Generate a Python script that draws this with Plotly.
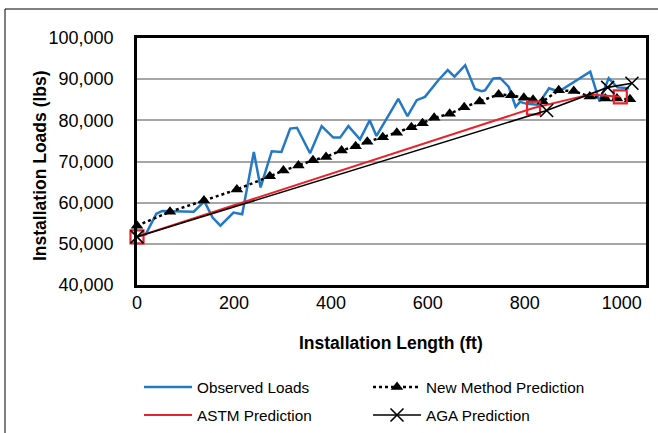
import plotly.graph_objects as go

# ---------------- data ----------------
obs_x = [0, 18, 40, 52, 117, 139, 156, 172, 199, 217, 241, 255, 278, 298, 316, 330,
         357, 381, 405, 419, 436, 460, 480, 494, 539, 558, 577, 594, 622, 641, 655,
         677, 697, 711, 718, 735, 749, 767, 781, 790, 804, 827, 850, 870, 935, 954,
         973, 991, 1015]
obs_y = [51800, 52300, 57300, 58000, 57800, 60300, 56400, 54400, 57600, 57200, 72300,
         63700, 72500, 72300, 78000, 78200, 72000, 78600, 75800, 75800, 78600, 75400,
         80000, 76200, 85200, 81000, 84900, 85700, 89800, 92200, 90600, 93400, 87600,
         87100, 87300, 90200, 90300, 88100, 83300, 84500, 84000, 83800, 87800, 87000,
         91800, 84600, 90200, 88000, 87800]

new_x = [0, 68, 138, 206, 274, 302, 333, 363, 390, 422, 451, 475, 507, 536, 566, 589,
         613, 645, 675, 707, 746, 772, 798, 817, 837, 870, 901, 934, 966, 990, 1017]
new_y = [54400, 57800, 60500, 63200, 66400, 67800, 69000, 70300, 71100, 72700, 73700,
         74800, 75900, 77000, 78300, 79300, 80600, 81600, 83200, 84600, 86300, 86100,
         85500, 85000, 84600, 87300, 87100, 85800, 85300, 85300, 85100]

astm_x = [0, 818, 935, 997]
astm_y = [51700, 83000, 86300, 85700]
astm_marked = [0, 1, 3]   # points drawn with a square marker

aga_x = [0, 845, 971, 1021]
aga_y = [51700, 82400, 88000, 89000]

x_ticks = [0, 200, 400, 600, 800, 1000]
y_ticks = [40000, 50000, 60000, 70000, 80000, 90000, 100000]

x_title = "Installation Length (ft)"
y_title = "Installation Loads (lbs)"

FONT = "Liberation Sans, Arial, Helvetica, sans-serif"
BLUE = "#2479C4"
RED = "#E8232B"

fig = go.Figure()

fig.add_trace(go.Scatter(
    x=obs_x, y=obs_y, mode="lines", name="Observed Loads",
    line=dict(color=BLUE, width=2.5), legend="legend", cliponaxis=False))

fig.add_trace(go.Scatter(
    x=new_x, y=new_y, mode="lines+markers", name="New Method Prediction",
    line=dict(color="black", width=2.5, dash="dot"),
    marker=dict(symbol="triangle-up", size=11, color="black"), legend="legend",
    cliponaxis=False))

fig.add_trace(go.Scatter(
    x=astm_x, y=astm_y, mode="lines", name="ASTM Prediction",
    line=dict(color=RED, width=2), legend="legend2", cliponaxis=False))

fig.add_trace(go.Scatter(
    x=[astm_x[i] for i in astm_marked], y=[astm_y[i] for i in astm_marked],
    mode="markers", showlegend=False, hoverinfo="skip", cliponaxis=False,
    marker=dict(symbol="square-open", size=13, color=RED, line=dict(width=2.2, color=RED))))

fig.add_trace(go.Scatter(
    x=aga_x, y=aga_y, mode="lines+markers", name="AGA Prediction",
    line=dict(color="black", width=1.6), cliponaxis=False,
    marker=dict(symbol="x-thin-open", size=13, color="black", line=dict(width=1.6, color="black")),
    legend="legend2"))

# plot area: left 137, right 646, top 38, bottom 285 (px)
L, R, T, B = 137, 12, 38, 148
W, H = 658, 433
pw, ph = W - L - R, H - T - B

def px_x(p):
    return (p - L) / pw

def px_y(p):
    return (H - B - p) / ph

legend_common = dict(
    orientation="h", xanchor="left", yanchor="middle",
    font=dict(family=FONT, size=15.3, color="black"),
    bgcolor="rgba(0,0,0,0)", entrywidth=166, entrywidthmode="pixels",
    tracegroupgap=0, itemwidth=48)

title_font = dict(family=FONT, size=17.5, color="black")

fig.update_layout(
    width=W, height=H,
    margin=dict(l=L, r=R, t=T, b=B, pad=0, autoexpand=False),
    paper_bgcolor="white", plot_bgcolor="white",
    font=dict(family=FONT, color="black"),
    showlegend=True,
    legend=dict(x=px_x(139), y=px_y(387), **legend_common),
    legend2=dict(x=px_x(139), y=px_y(415), **legend_common),
    xaxis=dict(
        range=[0, 1050], tickvals=x_ticks, showgrid=False, zeroline=False,
        automargin=False,
        showline=True, mirror=True, linecolor="black", linewidth=2.5,
        ticks="", tickfont=dict(family=FONT, size=18, color="black")),
    yaxis=dict(
        range=[40000, 100000], tickvals=y_ticks, tickformat=",d",
        automargin=False,
        showgrid=True, gridcolor="#A6A6A6", gridwidth=1.6, zeroline=False,
        showline=True, mirror=True, linecolor="black", linewidth=2.5,
        ticks="", ticklabelstandoff=17,
        tickfont=dict(family=FONT, size=18, color="black")),
    annotations=[
        dict(text="<b>" + x_title + "</b>", xref="paper", yref="paper",
             x=px_x(391), y=px_y(343), xanchor="center", yanchor="middle",
             showarrow=False, font=title_font),
        dict(text="<b>" + y_title + "</b>", xref="paper", yref="paper",
             x=px_x(40), y=px_y(166), xanchor="center", yanchor="middle",
             textangle=-90, showarrow=False, font=title_font),
    ],
    shapes=[dict(type="rect", xref="paper", yref="paper",
                 x0=px_x(5), x1=px_x(670), y0=px_y(9), y1=px_y(450),
                 line=dict(color="black", width=1), fillcolor="rgba(0,0,0,0)",
                 layer="below")],
)

fig.write_html("out.html", config={"displayModeBar": False},
               post_script="document.body.style.margin='0px';document.body.style.overflow='hidden';")
